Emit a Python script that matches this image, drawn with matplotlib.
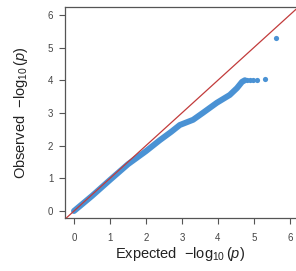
import matplotlib
matplotlib.use("Agg")
import matplotlib.pyplot as plt

plt.rcParams["font.family"] = ["Liberation Sans", "DejaVu Sans"]
plt.rcParams["mathtext.fontset"] = "custom"
plt.rcParams["mathtext.rm"] = "Liberation Sans"
plt.rcParams["mathtext.it"] = "Liberation Sans:italic"

# dense part of the QQ curve
expected_band = [0.0, 0.5, 1.0, 1.5, 2.0, 2.39, 2.7, 2.94, 3.31, 3.58,
                 3.97, 4.33, 4.53, 4.67, 4.75]
observed_band = [0.0, 0.46, 0.95, 1.43, 1.83, 2.17, 2.42, 2.63, 2.79, 3.0,
                 3.31, 3.55, 3.76, 3.95, 4.0]

# separate tail points
expected_tail = [4.8, 4.89, 4.97, 5.08, 5.31, 5.61]
observed_tail = [4.02, 4.02, 4.01, 4.01, 4.04, 5.3]

x_ticks = [0, 1, 2, 3, 4, 5, 6]
y_ticks = [0, 1, 2, 3, 4, 5, 6]

blue = "#4a92d4"
red = "#c23b3b"
grey = "#555555"

fig = plt.figure(figsize=(2.96, 2.71), dpi=100)
ax = fig.add_axes([0.2196, 0.1956, 0.7804, 0.7786])

ax.plot([-1, 7], [-1, 7], color=red, lw=0.9, zorder=3)
ax.plot(expected_band, observed_band, color=blue, lw=4.3,
        solid_capstyle="round", zorder=2)
ax.scatter(expected_tail, observed_tail, s=14, color=blue, lw=0, zorder=2)

ax.set_xlim(-0.25, 6.17)
ax.set_ylim(-0.214, 6.24)
ax.set_xticks(x_ticks)
ax.set_yticks(y_ticks)

for side in ["left", "bottom", "top"]:
    ax.spines[side].set_color(grey)
    ax.spines[side].set_linewidth(0.9)
ax.spines["right"].set_visible(False)

ax.tick_params(axis="both", direction="out", length=4.5, width=0.8,
               color=grey, labelcolor="#444444", labelsize=7)
ax.tick_params(axis="x", pad=6)
ax.tick_params(axis="y", pad=4)

ax.set_xlabel(r"Expected  $-\log_{10}(\mathit{p})$", fontsize=10.5,
              color="#222222", labelpad=2)
ax.set_ylabel(r"Observed  $-\log_{10}(\mathit{p})$", fontsize=10.5,
              color="#222222", labelpad=13)

fig.savefig("out.png", dpi=100)
